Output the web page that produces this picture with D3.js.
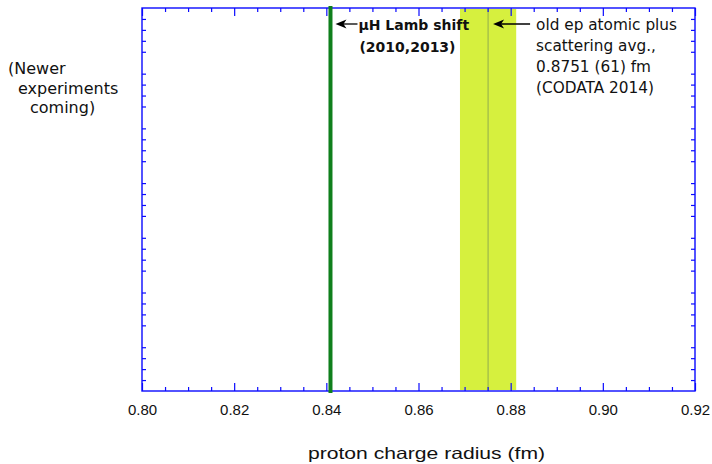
<!DOCTYPE html>
<html>
<head>
<meta charset="utf-8">
<script src="https://cdn.jsdelivr.net/npm/d3@7"></script>
<style>
  body { margin: 0; background: #fff; }
  svg { display: block; }
</style>
</head>
<body>
<div id="chart"></div>
<script>
const width = 712;
const height = 464;
const margin = { top: 8, right: 17, bottom: 73, left: 142 };

// values
const xDomain = [0.80, 0.92];
const xTickLabels = [0.80, 0.82, 0.84, 0.86, 0.88, 0.90, 0.92];
const yDomain = [0, 35]; // unlabeled axis, only minor ticks shown
const muonRadius = 0.8409;
const codataRadius = 0.8751;
const codataUncertainty = 0.0061;

const muonLabel = ['\u03bcH Lamb shift', '(2010,2013)'];
const codataLabel = ['old ep atomic plus', 'scattering avg.,', '0.8751 (61) fm', '(CODATA 2014)'];
const sideNote = ['(Newer', 'experiments', 'coming)'];
const xTitle = 'proton charge radius (fm)';

const blue = '#0a0aff';

const svg = d3
  .select('#chart')
  .append('svg')
  .attr('width', width)
  .attr('height', height);

const x = d3
  .scaleLinear()
  .domain(xDomain)
  .range([margin.left, width - margin.right]);

const y = d3
  .scaleLinear()
  .domain(yDomain)
  .range([height - margin.bottom, margin.top]);

const plotTop = y.range()[1];
const plotBottom = y.range()[0];

// CODATA band + central value
svg
  .append('rect')
  .attr('x', x(codataRadius - codataUncertainty))
  .attr('y', plotTop + 1)
  .attr('width', x(codataRadius + codataUncertainty) - x(codataRadius - codataUncertainty))
  .attr('height', plotBottom - plotTop - 2)
  .attr('fill', '#d6f03e');

svg
  .append('line')
  .attr('x1', x(codataRadius))
  .attr('x2', x(codataRadius))
  .attr('y1', plotTop + 1)
  .attr('y2', plotBottom - 1)
  .attr('stroke', '#9cb84c')
  .attr('stroke-width', 1.2);

// axes: minor ticks every 0.005, major every 0.02 (inward)
const minorX = x.ticks(24).filter((d) => !xTickLabels.some((t) => Math.abs(t - d) < 1e-9));
const minorY = y.ticks(35).filter((d) => d % 5 !== 0);

function styleAxis(g) {
  g.select('.domain').remove();
  g.selectAll('line').attr('stroke', blue).attr('stroke-width', 1.2);
}

svg
  .append('g')
  .attr('transform', `translate(0,${plotBottom})`)
  .call(d3.axisBottom(x).tickValues(minorX).tickSize(-4).tickFormat(''))
  .call(styleAxis);

svg
  .append('g')
  .attr('transform', `translate(0,${plotBottom})`)
  .call(
    d3.axisBottom(x)
      .tickValues(xTickLabels)
      .tickSize(-8)
      .tickPadding(13)
      .tickFormat(d3.format('.2f')),
  )
  .call(styleAxis)
  .selectAll('text')
  .attr('fill', '#111')
  .style('font-family', '"Liberation Sans", Arial, sans-serif')
  .style('font-size', '15px');

svg
  .append('g')
  .attr('transform', `translate(0,${plotTop})`)
  .call(d3.axisTop(x).tickValues(minorX).tickSize(-4).tickFormat(''))
  .call(styleAxis);

svg
  .append('g')
  .attr('transform', `translate(0,${plotTop})`)
  .call(d3.axisTop(x).tickValues(xTickLabels).tickSize(-8).tickFormat(''))
  .call(styleAxis);

svg
  .append('g')
  .attr('transform', `translate(${x.range()[0]},0)`)
  .call(d3.axisLeft(y).tickValues(minorY).tickSize(-4).tickFormat(''))
  .call(styleAxis);

svg
  .append('g')
  .attr('transform', `translate(${x.range()[1]},0)`)
  .call(d3.axisRight(y).tickValues(minorY).tickSize(-4).tickFormat(''))
  .call(styleAxis);

// frame
svg
  .append('rect')
  .attr('x', x.range()[0])
  .attr('y', plotTop)
  .attr('width', x.range()[1] - x.range()[0])
  .attr('height', plotBottom - plotTop)
  .attr('fill', 'none')
  .attr('stroke', blue)
  .attr('stroke-width', 1.4);

// muonic hydrogen result
svg
  .append('line')
  .attr('x1', x(muonRadius))
  .attr('x2', x(muonRadius))
  .attr('y1', plotTop - 2)
  .attr('y2', plotBottom + 2)
  .attr('stroke', '#0f7f1c')
  .attr('stroke-width', 4);

// arrows pointing left at the two values
function arrow(xTip, len, yy) {
  svg
    .append('line')
    .attr('x1', xTip + 4)
    .attr('x2', xTip + len)
    .attr('y1', yy)
    .attr('y2', yy)
    .attr('stroke', '#000')
    .attr('stroke-width', 1.3);
  svg
    .append('path')
    .attr('d', `M${xTip},${yy} L${xTip + 11},${yy - 4.5} L${xTip + 8},${yy} L${xTip + 11},${yy + 4.5} Z`)
    .attr('fill', '#000');
}

arrow(x(muonRadius) + 5, 22, 24);
arrow(x(codataRadius) + 5, 37, 24);

const textFont = '"DejaVu Sans", Verdana, sans-serif';

svg
  .append('g')
  .selectAll('text')
  .data(muonLabel)
  .join('text')
  .attr('x', (d, i) => x(muonRadius) + 28 + i)
  .attr('y', (d, i) => 30 + i * 22)
  .attr('fill', '#111')
  .style('font-family', textFont)
  .style('font-weight', 'bold')
  .style('font-size', '14px')
  .text((d) => d);

svg
  .append('g')
  .selectAll('text')
  .data(codataLabel)
  .join('text')
  .attr('x', x(codataRadius) + 48)
  .attr('y', (d, i) => 29.5 + i * 21.3)
  .attr('fill', '#111')
  .style('font-family', textFont)
  .style('font-size', '15.3px')
  .text((d) => d);

const noteX = [8, 18, 30];
svg
  .append('g')
  .selectAll('text')
  .data(sideNote)
  .join('text')
  .attr('x', (d, i) => noteX[i])
  .attr('y', (d, i) => 74 + i * 19.5)
  .attr('fill', '#111')
  .style('font-family', textFont)
  .style('font-size', '16px')
  .text((d) => d);

svg
  .append('text')
  .attr('x', (x.range()[0] + x.range()[1]) / 2 + 8)
  .attr('y', 459)
  .attr('text-anchor', 'middle')
  .attr('textLength', 237)
  .attr('lengthAdjust', 'spacingAndGlyphs')
  .attr('fill', '#111')
  .style('font-family', '"Liberation Sans", Arial, sans-serif')
  .style('font-size', '16.5px')
  .text(xTitle);
</script>
</body>
</html>
